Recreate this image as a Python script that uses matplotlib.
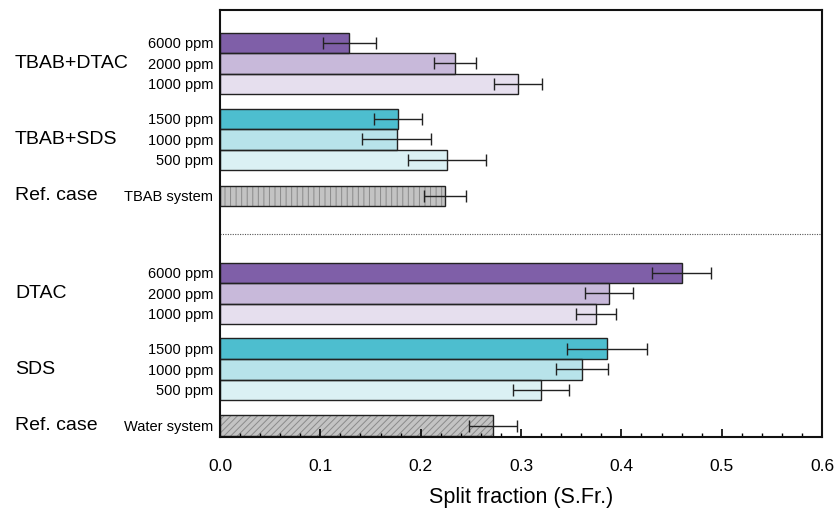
#!/usr/bin/env python3
import numpy as np
import matplotlib.pyplot as plt
import matplotlib.transforms as mtransforms
from matplotlib.ticker import MultipleLocator

plt.rcParams['font.family'] = ['Liberation Sans', 'DejaVu Sans']
plt.rcParams['hatch.linewidth'] = 0.7

# Data (top to bottom)
bar_labels = ["6000 ppm", "2000 ppm", "1000 ppm",
              "1500 ppm", "1000 ppm", "500 ppm",
              "TBAB system",
              "6000 ppm", "2000 ppm", "1000 ppm",
              "1500 ppm", "1000 ppm", "500 ppm",
              "Water system"]
split_fraction = [0.129, 0.234, 0.297,
                  0.177, 0.176, 0.226,
                  0.224,
                  0.460, 0.388, 0.375,
                  0.386, 0.361, 0.320,
                  0.272]
split_error = [0.026, 0.021, 0.024,
               0.024, 0.034, 0.039,
               0.021,
               0.029, 0.024, 0.020,
               0.040, 0.026, 0.028,
               0.024]
group_names = ["TBAB+DTAC", "TBAB+SDS", "Ref. case", "DTAC", "SDS", "Ref. case"]

purple = ["#7f5fa8", "#c8b9da", "#e6dfee"]
teal = ["#4dbecf", "#b8e3ea", "#dbf1f4"]
gray = "#c3c3c3"
colors = purple + teal + [gray] + purple + teal + [gray]
hatches = [""] * 6 + ["|||"] + [""] * 6 + ["/////"]

# layout: bar slots with gaps between groups
pos = []
y = 0.0
gaps = [0, 1.7, 1.75, 3.75, 1.7, 1.75]
sizes = [3, 3, 1, 3, 3, 1]
group_centers = []
for g, n in zip(gaps, sizes):
    y += g
    start = y
    for i in range(n):
        pos.append(y)
        y += 1
    y -= 1
    group_centers.append((start + y) / 2)
divider_y = (pos[6] + pos[7]) / 2

fig = plt.figure(figsize=(8.38, 5.25), dpi=100)
ax = fig.add_axes([0.2625, 0.1676, 0.7185, 0.8134])

# fill + grey hatch first, then dark outline on top
ax.barh(pos, split_fraction, height=1.0, color=colors, edgecolor="#8a8a8a",
        linewidth=0, hatch=hatches)
ax.barh(pos, split_fraction, height=1.0, fill=False, edgecolor="#222222",
        linewidth=1.0)
ax.errorbar(split_fraction, pos, xerr=split_error, fmt="none", ecolor="#222222",
            elinewidth=1.0, capsize=4, capthick=1.0)

ax.axhline(divider_y, color="#555555", linestyle=(0, (1, 1.2)), linewidth=0.8)

ax.set_xlim(0, 0.6)
ax.set_ylim(pos[-1] + 0.55, pos[0] - 1.6)
ax.set_yticks(pos)
ax.set_yticklabels(bar_labels, fontsize=10.5)
ax.tick_params(axis="y", length=0, pad=5)
ax.xaxis.set_major_locator(MultipleLocator(0.1))
ax.xaxis.set_minor_locator(MultipleLocator(0.02))
ax.tick_params(axis="x", which="major", direction="in", length=6, width=1.2,
               labelsize=12.5, pad=16)
ax.tick_params(axis="x", which="minor", direction="in", length=3, width=1.0)
ax.set_xlabel("Split fraction (S.Fr.)", fontsize=15.5, labelpad=9)
for s in ax.spines.values():
    s.set_linewidth(1.5)
    s.set_color("#111111")

label_tr = mtransforms.blended_transform_factory(fig.transFigure, ax.transData)
for name, c in zip(group_names, group_centers):
    ax.text(0.018, c, name, transform=label_tr, fontsize=14,
            ha="left", va="center")

plt.savefig("out.png", dpi=100)
